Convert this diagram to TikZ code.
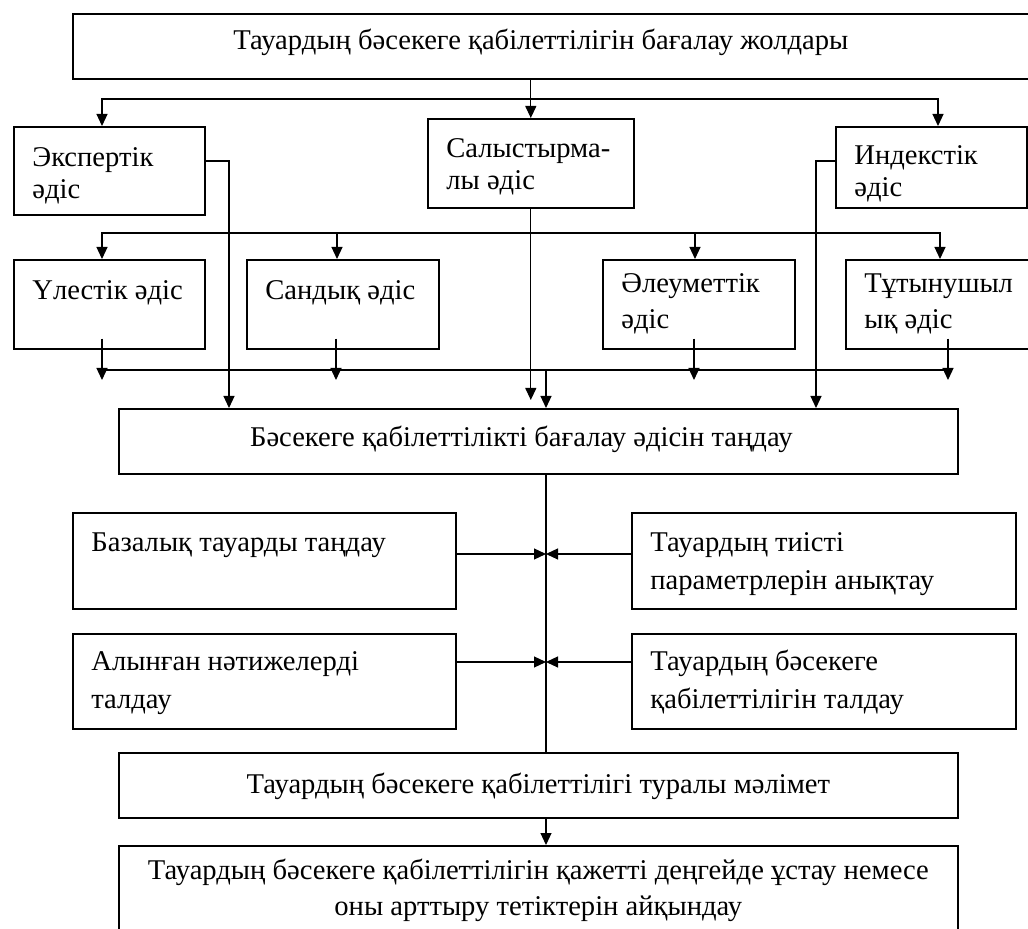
\documentclass[tikz,border=0pt]{standalone}
\usepackage{fontspec}
\setmainfont{Liberation Serif}
\usetikzlibrary{arrows.meta}
\def\px{0.5pt}
\tikzset{
	frame/.style={draw,rectangle,line width=0.8pt,inner sep=0pt},
	txt/.style={inner sep=0pt,font=\fontsize{14.3}{16}\selectfont},
	wire/.style={line width=0.6pt},
	arr/.style={-{Triangle[length=6pt,width=5.5pt]}}
}
% box with text at its top left corner
\newcommand{\leftbox}[7]{\node[frame,minimum width=#3*\px,minimum height=#4*\px,anchor=north west] (#5) at (#1,#2) {};
	\node[txt,anchor=base west] (#5-t) at ([xshift=19*\px,yshift=-#6*\px]#5.north west) {\begin{tabular}[t]{@{}l@{}}#7\end{tabular}};}
% box with centred text
\newcommand{\midbox}[8]{\node[frame,minimum width=#3*\px,minimum height=#4*\px,anchor=north west] (#5) at (#1,#2) {};
	\node[txt,anchor=base] (#5-t) at ([xshift=#8*\px,yshift=-#6*\px]#5.north) {\begin{tabular}[t]{@{}c@{}}#7\end{tabular}};}

\begin{document}
\begin{tikzpicture}[x=\px,y=-\px]
	\useasboundingbox (0,0) rectangle (1028,929);

	\midbox{72}{13}{968}{65}{top}{37}{Тауардың бәсекеге қабілеттілігін бағалау жолдары}{-16}

	\leftbox{13}{126}{191}{88}{exp}{41}{Экспертік\\әдіс}
	\leftbox{427}{118}{206}{89}{sal}{40}{Салыстырма-\\лы әдіс}
	\leftbox{835}{126}{191}{81}{ind}{39}{Индекстік\\әдіс}

	\leftbox{13}{259}{191}{89}{ul}{41}{Үлестік әдіс}
	\leftbox{246}{259}{192}{89}{san}{41}{Сандық әдіс}
	\leftbox{602}{259}{192}{89}{ale}{34}{Әлеуметтік\\[2pt]әдіс}
	\leftbox{845}{259}{196}{89}{tut}{34}{Тұтынушыл\\[2pt]ық әдіс}

	\midbox{118}{408}{839}{65}{bas}{39}{Бәсекеге қабілеттілікті бағалау әдісін таңдау}{-17}

	\leftbox{72}{512}{383}{96}{bz}{40}{Базалық тауарды таңдау}
	\leftbox{631}{512}{384}{96}{prm}{40}{Тауардың тиісті\\[3pt]параметрлерін анықтау}
	\leftbox{72}{633}{383}{95}{aln}{38}{Алынған нәтижелерді\\[3pt]талдау}
	\leftbox{631}{633}{384}{95}{tld}{38}{Тауардың бәсекеге\\[3pt]қабілеттілігін талдау}

	\midbox{118}{752}{839}{65}{inf}{41}{Тауардың бәсекеге қабілеттілігі туралы мәлімет}{0}
	\midbox{118}{845}{839}{100}{fin}{34}{Тауардың бәсекеге қабілеттілігін қажетті деңгейде ұстау немесе\\[2pt]оны арттыру тетіктерін айқындау}{0}

	\coordinate (bus1) at (530,99);
	\coordinate (bus2) at (530,233);
	\coordinate (bus3) at (546,370);
	\coordinate (tip3) at (546,380);
	\coordinate (ul-o) at ([xshift=89*\px,yshift=11*\px]ul.south west);
	\coordinate (san-o) at ([xshift=90*\px,yshift=11*\px]san.south west);
	\coordinate (ale-o) at ([xshift=92*\px,yshift=11*\px]ale.south west);
	\coordinate (tut-o) at ([xshift=103*\px,yshift=11*\px]tut.south west);
	\coordinate (bz-o) at ([yshift=-42*\px]bz.north east);
	\coordinate (prm-o) at ([yshift=-42*\px]prm.north west);
	\coordinate (aln-o) at ([yshift=-29*\px]aln.north east);
	\coordinate (tld-o) at ([yshift=-29*\px]tld.north west);

	\draw[wire,arr] (top.south -| sal.north) -- (sal.north);
	\draw[wire,arr] (bus1) -| ([xshift=89*\px]exp.north west);
	\draw[wire,arr] (bus1) -| ([xshift=103*\px]ind.north west);

	\draw[wire,arr] (bus2) -| ([xshift=89*\px]ul.north west);
	\draw[wire,arr] (bus2) -| ([xshift=91*\px]san.north west);
	\draw[wire,arr] (bus2) -| ([xshift=93*\px]ale.north west);
	\draw[wire,arr] (bus2) -| ([xshift=95*\px]tut.north west);

	\draw[wire,arr] ([yshift=-35*\px]exp.north east) -| ([xshift=111*\px]bas.north west);
	\draw[wire,arr] ([yshift=-35*\px]ind.north west) -| ([xshift=698*\px]bas.north west);
	\draw[wire,arr,shorten >=4pt] (sal.south) -- (sal.south |- bas.north);

	\draw[wire,arr] (ul-o) -- (ul-o |- tip3);
	\draw[wire,arr] (san-o) -- (san-o |- tip3);
	\draw[wire,arr] (ale-o) -- (ale-o |- tip3);
	\draw[wire,arr] (tut-o) -- (tut-o |- tip3);
	\draw[wire] (ul-o |- bus3) -- (tut-o |- bus3);
	\draw[wire,arr] (bus3) -- (bus3 |- bas.north);

	\draw[wire] (bus3 |- bas.south) -- (bus3 |- inf.north);
	\draw[wire,arr] (bz-o) -- (bz-o -| bus3);
	\draw[wire,arr] (prm-o) -- (prm-o -| bus3);
	\draw[wire,arr] (aln-o) -- (aln-o -| bus3);
	\draw[wire,arr] (tld-o) -- (tld-o -| bus3);
	\draw[wire,arr] (bus3 |- inf.south) -- (bus3 |- fin.north);
\end{tikzpicture}
\end{document}
